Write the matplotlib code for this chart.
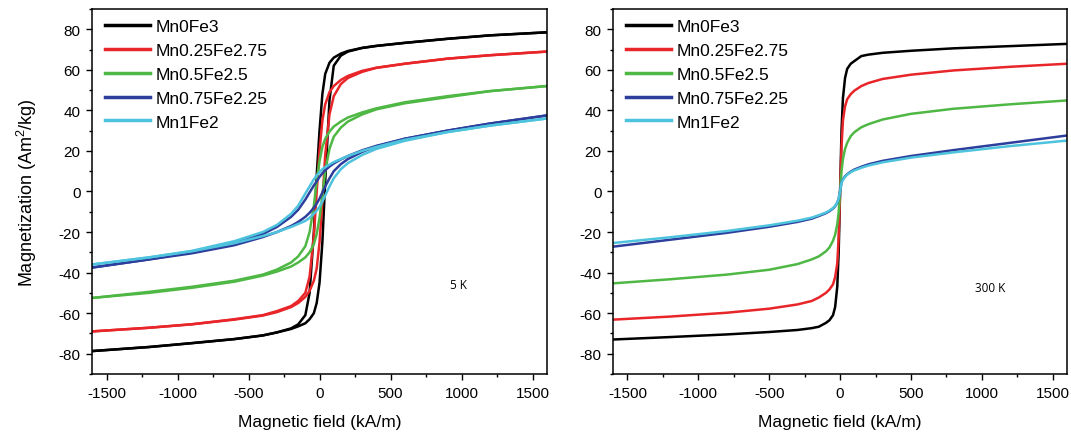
import matplotlib
matplotlib.use("Agg")
import matplotlib.pyplot as plt
from matplotlib.ticker import MultipleLocator

plt.rcParams["font.family"] = ["Liberation Sans", "DejaVu Sans"]
plt.rcParams["mathtext.default"] = "regular"
plt.rcParams["axes.unicode_minus"] = False

labels = ["Mn0Fe3", "Mn0.25Fe2.75", "Mn0.5Fe2.5", "Mn0.75Fe2.25", "Mn1Fe2"]
colors = ["#000000", "#e8262a", "#4fb845", "#2d3e9c", "#4ec3dd"]

# ---- 5 K: hysteresis loops, descending branch (field down) ----
h_down = [1600, 1200, 900, 600, 400, 300, 200, 150, 100, 70, 40, 20, 0,
          -20, -40, -70, -100, -150, -200, -300, -400, -600, -900, -1200, -1600]
m_down_mn0 = [78.5, 77.0, 75.3, 73.3, 71.8, 70.8, 69.3, 68.0, 66.0, 63.5, 58.0, 48.0, 30.0,
              8.0, -20.0, -50.0, -61.0, -65.5, -67.5, -69.5, -71.0, -72.8, -74.8, -76.7, -78.7]
m_down_mn025 = [69.0, 67.2, 65.5, 63.0, 61.0, 59.5, 57.0, 55.0, 52.0, 49.0, 43.0, 35.0, 20.0,
                0.0, -22.0, -42.0, -50.0, -54.0, -56.5, -59.0, -61.0, -63.0, -65.5, -67.2, -69.0]
m_down_mn05 = [52.0, 49.5, 47.0, 44.0, 41.0, 39.0, 36.5, 34.5, 32.0, 29.5, 26.0, 22.0, 15.0,
               5.0, -7.0, -20.0, -27.0, -32.0, -35.0, -38.5, -41.0, -44.0, -47.0, -49.5, -52.5]
m_down_mn075 = [37.5, 33.5, 30.0, 26.0, 22.5, 20.3, 17.5, 15.8, 13.8, 12.3, 10.5, 9.0, 7.2,
                5.0, 3.0, -0.5, -4.0, -9.0, -12.5, -17.5, -21.0, -25.5, -30.0, -33.5, -37.5]
m_down_mn1 = [36.0, 32.5, 29.3, 25.5, 22.0, 20.0, 17.5, 16.0, 14.5, 13.3, 12.0, 11.0, 9.5,
              8.0, 6.0, 2.5, -1.0, -7.0, -11.0, -16.5, -20.0, -24.5, -29.3, -32.5, -36.0]

# ---- 5 K: ascending branch (field up) ----
h_up = [-1600, -1200, -900, -600, -400, -300, -200, -150, -100, -70, -40, -20, 0,
        20, 40, 70, 100, 150, 200, 300, 400, 600, 900, 1200, 1600]
m_up_mn0 = [-78.7, -76.7, -74.8, -72.8, -71.0, -69.5, -67.8, -66.5, -65.0, -63.0, -60.0, -55.0, -45.0,
            -25.0, 5.0, 45.0, 62.0, 67.0, 69.0, 70.8, 71.8, 73.3, 75.3, 77.0, 78.5]
m_up_mn025 = [-69.0, -67.2, -65.5, -63.2, -61.2, -59.5, -57.0, -55.0, -52.0, -49.0, -44.0, -38.0, -25.0,
              -5.0, 18.0, 38.0, 47.0, 53.0, 56.0, 59.0, 61.0, 63.0, 65.5, 67.2, 69.0]
m_up_mn05 = [-52.5, -50.0, -47.5, -44.5, -41.5, -39.5, -37.0, -35.0, -32.5, -30.0, -26.0, -21.0, -13.0,
             -2.0, 10.0, 21.0, 27.0, 31.5, 34.5, 38.0, 40.5, 43.5, 46.5, 49.5, 52.0]
m_up_mn075 = [-37.5, -33.5, -30.5, -26.5, -22.5, -20.0, -17.0, -15.0, -12.5, -10.5, -8.0, -6.0, -3.5,
              -0.5, 2.5, 6.5, 10.0, 13.5, 16.0, 19.5, 22.3, 26.0, 30.0, 33.5, 37.5]
m_up_mn1 = [-36.0, -32.5, -29.5, -25.5, -22.0, -20.0, -17.5, -16.0, -14.5, -13.0, -11.0, -9.5, -7.5,
            -5.0, -2.0, 2.5, 6.5, 11.0, 14.0, 18.0, 21.0, 25.0, 29.3, 32.5, 36.0]

# ---- 300 K: no visible hysteresis ----
h_300 = [-1600, -1200, -800, -500, -300, -200, -150, -100, -75, -50, -35, -20, -10, 0,
         10, 20, 35, 50, 75, 100, 150, 200, 300, 500, 800, 1200, 1600]
m300_mn0 = [-73.0, -71.8, -70.5, -69.3, -68.3, -67.4, -66.7, -64.8, -63.5, -61.0, -57.0, -47.0, -30.0, 0.0,
            30.0, 46.0, 56.0, 60.5, 63.0, 64.3, 66.8, 67.5, 68.4, 69.4, 70.6, 71.7, 72.8]
m300_mn025 = [-63.2, -61.7, -59.8, -57.8, -55.7, -54.0, -52.3, -50.0, -48.3, -45.8, -42.3, -35.5, -22.5, 0.0,
              22.0, 35.0, 42.0, 45.5, 48.0, 49.7, 52.0, 53.5, 55.5, 57.6, 59.7, 61.5, 63.0]
m300_mn05 = [-45.3, -43.3, -41.0, -38.6, -35.8, -33.5, -32.0, -29.5, -27.6, -24.3, -21.3, -16.3, -10.3, 0.0,
             10.0, 16.0, 21.0, 24.0, 27.3, 29.2, 31.7, 33.2, 35.5, 38.3, 40.8, 43.0, 44.9]
m300_mn075 = [-27.2, -23.8, -20.4, -17.4, -15.0, -13.4, -12.1, -10.7, -9.7, -8.4, -7.3, -5.6, -3.6, 0.0,
              4.5, 6.0, 7.5, 8.5, 9.8, 10.8, 12.2, 13.4, 15.1, 17.5, 20.4, 24.0, 27.6]
m300_mn1 = [-25.4, -22.6, -19.5, -16.7, -14.4, -12.9, -11.7, -10.4, -9.4, -8.2, -7.1, -5.5, -3.5, 0.0,
            4.3, 5.8, 7.2, 8.3, 9.5, 10.4, 11.7, 12.8, 14.4, 16.7, 19.3, 22.4, 25.1]

down_5k = [m_down_mn0, m_down_mn025, m_down_mn05, m_down_mn075, m_down_mn1]
up_5k = [m_up_mn0, m_up_mn025, m_up_mn05, m_up_mn075, m_up_mn1]
curves_300k = [m300_mn0, m300_mn025, m300_mn05, m300_mn075, m300_mn1]

fig = plt.figure(figsize=(10.71, 4.35), dpi=100)
ax1 = fig.add_axes([0.0862, 0.138, 0.4243, 0.839])
ax2 = fig.add_axes([0.5726, 0.138, 0.4236, 0.839])

lw = 1.8
for lab, c, md, mu in zip(labels, colors, down_5k, up_5k):
    ax1.plot(h_down, md, color=c, lw=lw, label=lab)
    ax1.plot(h_up, mu, color=c, lw=lw)

for lab, c, m in zip(labels, colors, curves_300k):
    ax2.plot(h_300, m, color=c, lw=lw, label=lab)

ax1.text(975, -46, "5 K", fontsize=8.5, family=["Open Sans", "DejaVu Sans"],
         ha="center", va="center")
ax2.text(1055, -47.5, "300 K", fontsize=8.5, family=["Open Sans", "DejaVu Sans"],
         ha="center", va="center")

for ax in (ax1, ax2):
    ax.set_xlim(-1600, 1600)
    ax.set_ylim(-90, 90)
    ax.xaxis.set_major_locator(MultipleLocator(500))
    ax.xaxis.set_minor_locator(MultipleLocator(250))
    ax.yaxis.set_major_locator(MultipleLocator(20))
    ax.yaxis.set_minor_locator(MultipleLocator(10))
    ax.tick_params(which="major", direction="out", length=4.5, width=1.0, labelsize=11, pad=4)
    ax.tick_params(which="minor", direction="out", length=2.5, width=1.0)
    for sp in ax.spines.values():
        sp.set_linewidth(1.1)
    ax.set_xlabel("Magnetic field (kA/m)", fontsize=12.5, labelpad=10)
    leg = ax.legend(loc="upper left", bbox_to_anchor=(0.021, 0.982), frameon=False,
                    fontsize=12.5, handlelength=2.6, handletextpad=0.3,
                    labelspacing=0.5, borderaxespad=0, borderpad=0.2)
    for line in leg.get_lines():
        line.set_linewidth(2.5)

ax1.set_ylabel("Magnetization (Am$^2$/kg)", fontsize=13, labelpad=14)

fig.savefig("out.png", dpi=100)
